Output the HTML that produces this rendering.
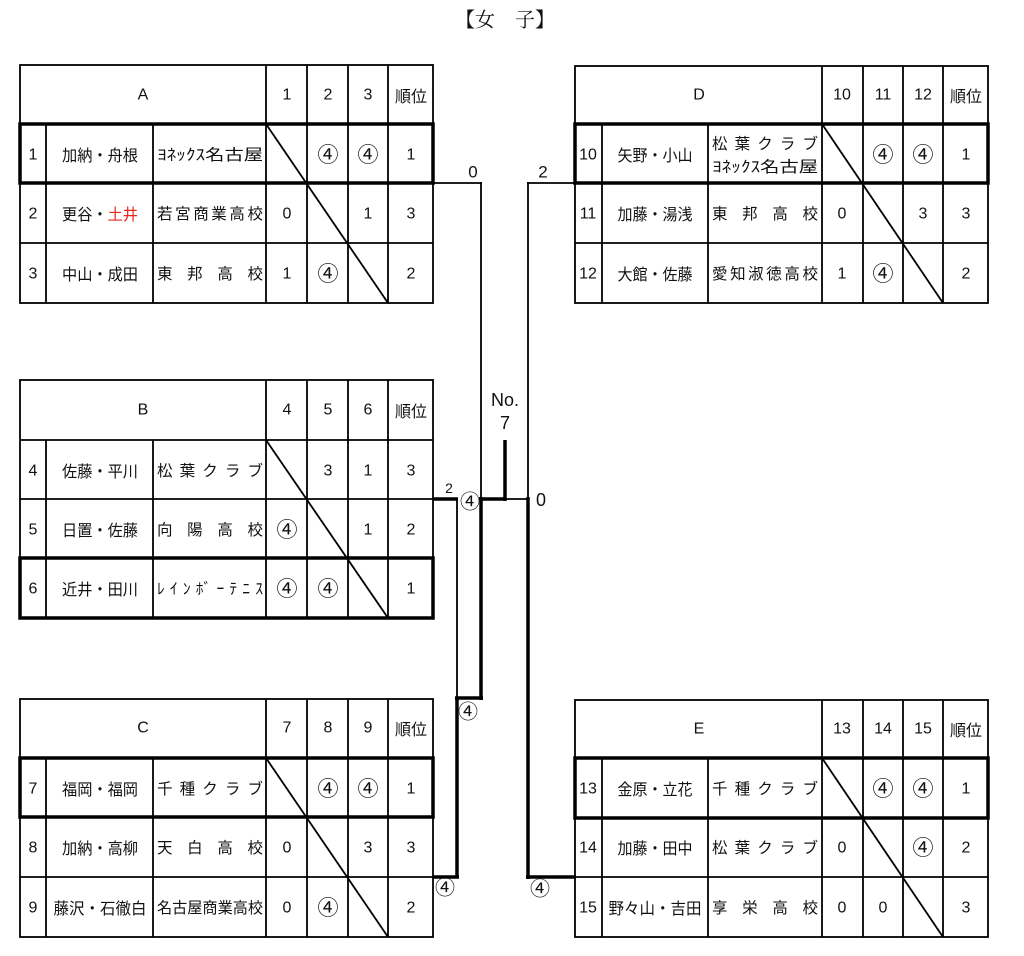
<!DOCTYPE html>
<html><head><meta charset="utf-8"><style>
html,body{margin:0;padding:0;background:#fff}
svg{display:block}
text{font-family:"Liberation Sans","Noto Sans CJK JP",sans-serif;font-size:16px;fill:#111;text-anchor:middle;dominant-baseline:central}
.j{font-family:"Noto Sans CJK JP",sans-serif;text-anchor:start;font-size:15.5px}
.n{font-family:"Noto Sans CJK JP",sans-serif;font-size:16px}
.c{font-family:"Noto Sans CJK JP",sans-serif;font-size:21px}
.t{font-family:"Noto Serif CJK SC","Liberation Serif",serif;font-size:20px}
line,rect{stroke:#000;fill:none;stroke-width:1.8}
.k{stroke-width:3.5}
</style></head><body>
<svg width="1024" height="956" viewBox="0 0 1024 956" xmlns="http://www.w3.org/2000/svg">
<text class="t" x="505" y="18">【女　子】</text>

<!-- ===== Table A ===== -->
<rect x="20" y="65" width="413" height="238"/>
<line x1="46" y1="124" x2="46" y2="303"/><line x1="153" y1="124" x2="153" y2="303"/>
<line x1="266" y1="65" x2="266" y2="303"/><line x1="307" y1="65" x2="307" y2="303"/>
<line x1="348" y1="65" x2="348" y2="303"/><line x1="388" y1="65" x2="388" y2="303"/>
<line x1="20" y1="124" x2="433" y2="124"/><line x1="20" y1="183" x2="433" y2="183"/><line x1="20" y1="243" x2="433" y2="243"/>
<line x1="266" y1="124" x2="388" y2="303"/>
<rect class="k" x="20" y="124" width="413" height="59"/>
<text x="143" y="95">A</text><text x="287" y="95">1</text><text x="328" y="95">2</text><text x="368" y="95">3</text><text class="n" x="411" y="95">順位</text>
<text x="33" y="155">1</text><text class="n" x="100" y="154" textLength="76" lengthAdjust="spacingAndGlyphs">加納・舟根</text><text class="j" x="157" y="154" textLength="106" lengthAdjust="spacingAndGlyphs">ﾖﾈｯｸｽ名古屋</text><text class="c" x="328" y="154">④</text><text class="c" x="368" y="154">④</text><text x="411" y="155">1</text>
<text x="33" y="214">2</text><text class="n" x="100" y="213" textLength="76" lengthAdjust="spacingAndGlyphs">更谷・<tspan fill="#e8251e" style="fill:#e8251e">土井</tspan></text><text class="j" x="157" y="213" textLength="106" lengthAdjust="spacing">若宮商業高校</text><text x="287" y="214">0</text><text x="368" y="214">1</text><text x="411" y="214">3</text>
<text x="33" y="274">3</text><text class="n" x="100" y="273" textLength="76" lengthAdjust="spacingAndGlyphs">中山・成田</text><text class="j" x="157" y="273" textLength="106" lengthAdjust="spacing">東邦高校</text><text x="287" y="274">1</text><text class="c" x="328" y="273">④</text><text x="411" y="274">2</text>

<!-- ===== Table B ===== -->
<rect x="20" y="380" width="413" height="238"/>
<line x1="46" y1="440" x2="46" y2="618"/><line x1="153" y1="440" x2="153" y2="618"/>
<line x1="266" y1="380" x2="266" y2="618"/><line x1="307" y1="380" x2="307" y2="618"/>
<line x1="348" y1="380" x2="348" y2="618"/><line x1="388" y1="380" x2="388" y2="618"/>
<line x1="20" y1="440" x2="433" y2="440"/><line x1="20" y1="499" x2="433" y2="499"/><line x1="20" y1="558" x2="433" y2="558"/>
<line x1="266" y1="440" x2="388" y2="618"/>
<rect class="k" x="20" y="558" width="413" height="60"/>
<text x="143" y="410">B</text><text x="287" y="410">4</text><text x="328" y="410">5</text><text x="368" y="410">6</text><text class="n" x="411" y="410">順位</text>
<text x="33" y="471">4</text><text class="n" x="100" y="470" textLength="76" lengthAdjust="spacingAndGlyphs">佐藤・平川</text><text class="j" x="157" y="470" textLength="106" lengthAdjust="spacing">松葉クラブ</text><text x="328" y="471">3</text><text x="368" y="471">1</text><text x="411" y="471">3</text>
<text x="33" y="530">5</text><text class="n" x="100" y="529" textLength="76" lengthAdjust="spacingAndGlyphs">日置・佐藤</text><text class="j" x="157" y="529" textLength="106" lengthAdjust="spacing">向陽高校</text><text class="c" x="287" y="529">④</text><text x="368" y="530">1</text><text x="411" y="530">2</text>
<text x="33" y="589">6</text><text class="n" x="100" y="588" textLength="76" lengthAdjust="spacingAndGlyphs">近井・田川</text><text class="j" x="157" y="588" textLength="106" lengthAdjust="spacing">ﾚｲﾝﾎﾞｰﾃﾆｽ</text><text class="c" x="287" y="588">④</text><text class="c" x="328" y="588">④</text><text x="411" y="589">1</text>

<!-- ===== Table C ===== -->
<rect x="20" y="699" width="413" height="238"/>
<line x1="46" y1="758" x2="46" y2="937"/><line x1="153" y1="758" x2="153" y2="937"/>
<line x1="266" y1="699" x2="266" y2="937"/><line x1="307" y1="699" x2="307" y2="937"/>
<line x1="348" y1="699" x2="348" y2="937"/><line x1="388" y1="699" x2="388" y2="937"/>
<line x1="20" y1="758" x2="433" y2="758"/><line x1="20" y1="817" x2="433" y2="817"/><line x1="20" y1="877" x2="433" y2="877"/>
<line x1="266" y1="758" x2="388" y2="937"/>
<rect class="k" x="20" y="758" width="413" height="59"/>
<text x="143" y="728">C</text><text x="287" y="728">7</text><text x="328" y="728">8</text><text x="368" y="728">9</text><text class="n" x="411" y="728">順位</text>
<text x="33" y="789">7</text><text class="n" x="100" y="788" textLength="76" lengthAdjust="spacingAndGlyphs">福岡・福岡</text><text class="j" x="157" y="788" textLength="106" lengthAdjust="spacing">千種クラブ</text><text class="c" x="328" y="788">④</text><text class="c" x="368" y="788">④</text><text x="411" y="789">1</text>
<text x="33" y="848">8</text><text class="n" x="100" y="847" textLength="76" lengthAdjust="spacingAndGlyphs">加納・高柳</text><text class="j" x="157" y="847" textLength="106" lengthAdjust="spacing">天白高校</text><text x="287" y="848">0</text><text x="368" y="848">3</text><text x="411" y="848">3</text>
<text x="33" y="908">9</text><text class="n" x="100" y="907" textLength="93" lengthAdjust="spacingAndGlyphs">藤沢・石徹白</text><text class="j" x="157" y="907" textLength="106" lengthAdjust="spacingAndGlyphs">名古屋商業高校</text><text x="287" y="908">0</text><text class="c" x="328" y="907">④</text><text x="411" y="908">2</text>

<!-- ===== Table D ===== -->
<rect x="575" y="66" width="413" height="237"/>
<line x1="602" y1="124" x2="602" y2="303"/><line x1="708" y1="124" x2="708" y2="303"/>
<line x1="822" y1="66" x2="822" y2="303"/><line x1="863" y1="66" x2="863" y2="303"/>
<line x1="903" y1="66" x2="903" y2="303"/><line x1="943" y1="66" x2="943" y2="303"/>
<line x1="575" y1="124" x2="988" y2="124"/><line x1="575" y1="183" x2="988" y2="183"/><line x1="575" y1="243" x2="988" y2="243"/>
<line x1="822" y1="124" x2="943" y2="303"/>
<rect class="k" x="575" y="124" width="413" height="59"/>
<text x="699" y="95">D</text><text x="842" y="95">10</text><text x="883" y="95">11</text><text x="923" y="95">12</text><text class="n" x="966" y="95">順位</text>
<text x="588" y="155">10</text><text class="n" x="655" y="154" textLength="75" lengthAdjust="spacingAndGlyphs">矢野・小山</text><text class="j" x="712" y="143" textLength="106" lengthAdjust="spacing">松葉クラブ</text><text class="j" x="712" y="166" textLength="106" lengthAdjust="spacingAndGlyphs">ﾖﾈｯｸｽ名古屋</text><text class="c" x="883" y="154">④</text><text class="c" x="923" y="154">④</text><text x="966" y="155">1</text>
<text x="588" y="214">11</text><text class="n" x="655" y="213" textLength="75" lengthAdjust="spacingAndGlyphs">加藤・湯浅</text><text class="j" x="712" y="213" textLength="106" lengthAdjust="spacing">東邦高校</text><text x="842" y="214">0</text><text x="923" y="214">3</text><text x="966" y="214">3</text>
<text x="588" y="274">12</text><text class="n" x="655" y="273" textLength="75" lengthAdjust="spacingAndGlyphs">大館・佐藤</text><text class="j" x="712" y="273" textLength="106" lengthAdjust="spacing">愛知淑徳高校</text><text x="842" y="274">1</text><text class="c" x="883" y="273">④</text><text x="966" y="274">2</text>

<!-- ===== Table E ===== -->
<rect x="575" y="700" width="413" height="237"/>
<line x1="602" y1="758" x2="602" y2="937"/><line x1="708" y1="758" x2="708" y2="937"/>
<line x1="822" y1="700" x2="822" y2="937"/><line x1="863" y1="700" x2="863" y2="937"/>
<line x1="903" y1="700" x2="903" y2="937"/><line x1="943" y1="700" x2="943" y2="937"/>
<line x1="575" y1="758" x2="988" y2="758"/><line x1="575" y1="818" x2="988" y2="818"/><line x1="575" y1="877" x2="988" y2="877"/>
<line x1="822" y1="758" x2="943" y2="937"/>
<rect class="k" x="575" y="758" width="413" height="60"/>
<text x="699" y="729">E</text><text x="842" y="729">13</text><text x="883" y="729">14</text><text x="923" y="729">15</text><text class="n" x="966" y="729">順位</text>
<text x="588" y="789">13</text><text class="n" x="655" y="788" textLength="75" lengthAdjust="spacingAndGlyphs">金原・立花</text><text class="j" x="712" y="788" textLength="106" lengthAdjust="spacing">千種クラブ</text><text class="c" x="883" y="788">④</text><text class="c" x="923" y="788">④</text><text x="966" y="789">1</text>
<text x="588" y="848">14</text><text class="n" x="655" y="847" textLength="75" lengthAdjust="spacingAndGlyphs">加藤・田中</text><text class="j" x="712" y="847" textLength="106" lengthAdjust="spacing">松葉クラブ</text><text x="842" y="848">0</text><text class="c" x="923" y="847">④</text><text x="966" y="848">2</text>
<text x="588" y="908">15</text><text class="n" x="655" y="907" textLength="93" lengthAdjust="spacingAndGlyphs">野々山・吉田</text><text class="j" x="712" y="907" textLength="106" lengthAdjust="spacing">享栄高校</text><text x="842" y="908">0</text><text x="883" y="908">0</text><text x="966" y="908">3</text>

<!-- ===== Bracket connectors ===== -->
<line x1="433" y1="183" x2="482" y2="183" stroke-width="2"/>
<line x1="481" y1="182" x2="481" y2="499" stroke-width="2"/>
<line x1="527" y1="183" x2="575" y2="183" stroke-width="2"/>
<line x1="528" y1="182" x2="528" y2="499" stroke-width="2"/>
<line class="k" x1="433" y1="499" x2="458" y2="499"/>
<line x1="457" y1="499" x2="457" y2="698" stroke-width="2"/>
<line class="k" x1="457" y1="697" x2="457" y2="878"/>
<line class="k" x1="433" y1="877" x2="459" y2="877"/>
<line class="k" x1="455" y1="698" x2="483" y2="698"/>
<line class="k" x1="481" y1="497" x2="481" y2="700"/>
<line class="k" x1="479" y1="499" x2="506" y2="499"/>
<line x1="505" y1="499" x2="528" y2="499" stroke-width="2"/>
<line class="k" x1="505" y1="440" x2="505" y2="501"/>
<line class="k" x1="528" y1="497" x2="528" y2="879"/>
<line class="k" x1="526" y1="877" x2="576" y2="877"/>

<!-- labels -->
<text x="473" y="172" style="font-size:17px">0</text>
<text x="543" y="172" style="font-size:17px">2</text>
<text x="505" y="400" style="font-size:18px">No.</text>
<text x="505" y="423" style="font-size:18px">7</text>
<text x="449" y="488" style="font-size:14px">2</text>
<text class="c" x="470" y="500" style="font-size:20px">④</text>
<text x="541" y="500" style="font-size:18px">0</text>
<text class="c" x="468" y="710" style="font-size:20px">④</text>
<text class="c" x="445" y="886" style="font-size:20px">④</text>
<text class="c" x="540" y="887" style="font-size:20px">④</text>
</svg>
</body></html>
